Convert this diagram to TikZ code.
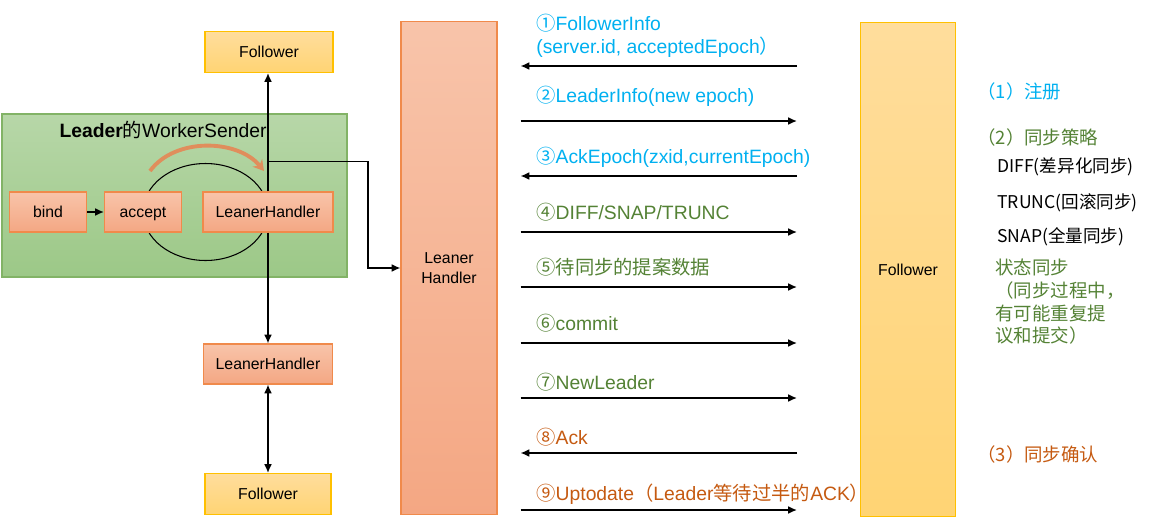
\documentclass[tikz,border=0pt]{standalone}
\usepackage{fontspec}
\setmainfont{Liberation Sans}
\newfontfamily\cjk{Noto Sans CJK SC}
\usetikzlibrary{arrows.meta}
\usetikzlibrary{backgrounds}
\usetikzlibrary{calc}

\definecolor{regblue}{HTML}{00B0F0}
\definecolor{syncgreen}{HTML}{548235}
\definecolor{ackorange}{HTML}{C55A11}
\definecolor{handlerline}{HTML}{F08A4B}
\definecolor{handlertop}{HTML}{F8C4AA}
\definecolor{handlerbottom}{HTML}{F4A783}
\definecolor{followerline}{HTML}{FFC000}
\definecolor{followertop}{HTML}{FFDD9C}
\definecolor{followerbottom}{HTML}{FFD474}
\definecolor{workerline}{HTML}{82B366}
\definecolor{workertop}{HTML}{B7D7A8}
\definecolor{workerbottom}{HTML}{9CC887}
\definecolor{loopcolor}{HTML}{E08E5C}

\begin{document}
\begin{tikzpicture}[x=0.02cm,y=0.02cm,
  handler/.style={draw=handlerline, line width=0.6pt, top color=handlertop, bottom color=handlerbottom, minimum height=0.8cm, text height=1.6ex, text depth=0.4ex, font=\fontsize{9}{11}\selectfont},
  follower/.style={draw=followerline, line width=0.6pt, top color=followertop, bottom color=followerbottom, minimum height=0.82cm, text height=1.6ex, text depth=0.4ex, font=\fontsize{9}{11}\selectfont},
  link/.style={line width=0.9pt, -{Latex[length=5pt,width=4.5pt]}},
  lbl/.style={anchor=west, inner sep=0pt, align=left, font=\fontsize{11}{12.8}\selectfont},
  note/.style={anchor=west, inner sep=0pt, align=left, font=\cjk\fontsize{10.5}{12.5}\selectfont}]
\useasboundingbox (0,0) rectangle (1154,529);

% left part: leader side
\node[follower, minimum width=2.56cm] (fol1) at (269,477) {Follower};
\node[anchor=center] (title) at (163,399) {\fontsize{11}{13}\selectfont\textbf{Leader}{\cjk 的}WorkerSender};
\node[handler, minimum width=1.54cm] (bind) at (48,317) {bind};
\node[handler, minimum width=1.54cm] (accept) at (143,317) {accept};
\node[handler, minimum width=2.6cm] (lh1) at (268,317) {LeanerHandler};
\node[handler, minimum width=2.58cm] (lh2) at (268,165) {LeanerHandler};
\node[follower, minimum width=2.52cm] (fol2) at (268,35) {Follower};

\begin{scope}[on background layer]
\draw[draw=workerline, top color=workertop, bottom color=workerbottom, line width=0.6pt] (2,415) rectangle (347,252);
\draw[line width=0.6pt] ($(accept)!0.5!(lh1)$) ellipse [x radius=1.25cm, y radius=0.97cm];
\end{scope}
\draw[line width=2.2pt, color=loopcolor, -{Stealth[length=6pt,width=7pt]}] (150,358) .. controls (175,392) and (238,390) .. (264,358);

\draw[link] (bind) -- (accept);
\draw[link] (lh1.north) -- (lh1.north |- fol1.south);
\draw[link] (lh1.south) -- (lh2.north);
\draw[line width=0.9pt, {Latex[length=5pt,width=4.5pt]}-{Latex[length=5pt,width=4.5pt]}] (lh2.south) -- (fol2.north);

% the two big boxes
\node[handler, minimum width=1.92cm, minimum height=9.86cm, align=center, text height=, text depth=] (lhbig) at (449,261) {Leaner\\Handler};
\node[follower, minimum width=1.9cm, minimum height=9.9cm] (folbig) at (908,259.5) {Follower};
\draw[link] ($(lh1.north)+(0,30)$) -- ++(100,0) |- (lhbig.west);

% messages
\foreach \y in {408,297,242,186,131,19}
  \draw[link, shorten <=0.46cm, shorten >=1.26cm] (lhbig.east |- 0,\y) -- (folbig.west |- 0,\y);
\foreach \y in {463,353,76}
  \draw[link, shorten <=1.26cm, shorten >=0.46cm] (folbig.west |- 0,\y) -- (lhbig.east |- 0,\y);

\node[lbl, text=regblue] (m1) at (536,493) {{\cjk ①}FollowerInfo\\(server.id, acceptedEpoch{\cjk ）}};
\node[lbl, text=regblue] (m2) at (536,433) {{\cjk ②}LeaderInfo(new epoch)};
\node[lbl, text=regblue] (m3) at (536,372) {{\cjk ③}AckEpoch(zxid,currentEpoch)};
\node[lbl, text=syncgreen] (m4) at (536,317) {{\cjk ④}DIFF/SNAP/TRUNC};
\node[lbl, text=syncgreen] (m5) at (536,262) {{\cjk ⑤待同步的提案数据}};
\node[lbl, text=syncgreen] (m6) at (536,206) {{\cjk ⑥}commit};
\node[lbl, text=syncgreen] (m7) at (536,147) {{\cjk ⑦}NewLeader};
\node[lbl, text=ackorange] (m8) at (536,92) {{\cjk ⑧}Ack};
\node[lbl, text=ackorange] (m9) at (536,35) {{\cjk ⑨}Uptodate{\cjk （}Leader{\cjk 等待过半的}ACK{\cjk ）}};

% right column
\node[note, text=regblue] (r1) at (977,438) {（1）注册};
\node[note, text=syncgreen] (r2) at (977,392) {（2）同步策略};
\node[note, font=\cjk\fontsize{10}{12}\selectfont] (r3) at (997,362) {DIFF(差异化同步)};
\node[note, font=\cjk\fontsize{10}{12}\selectfont] (r4) at (997,326) {TRUNC(回滚同步)};
\node[note, font=\cjk\fontsize{10}{12}\selectfont] (r5) at (997,292) {SNAP(全量同步)};
\node[note, text=syncgreen, anchor=north west, font=\cjk\fontsize{10.5}{12.9}\selectfont] (r6) at (995,270) {状态同步\\（同步过程中，\\有可能重复提\\议和提交）};
\node[note, text=ackorange] (r7) at (977,75) {（3）同步确认};
\end{tikzpicture}
\end{document}
